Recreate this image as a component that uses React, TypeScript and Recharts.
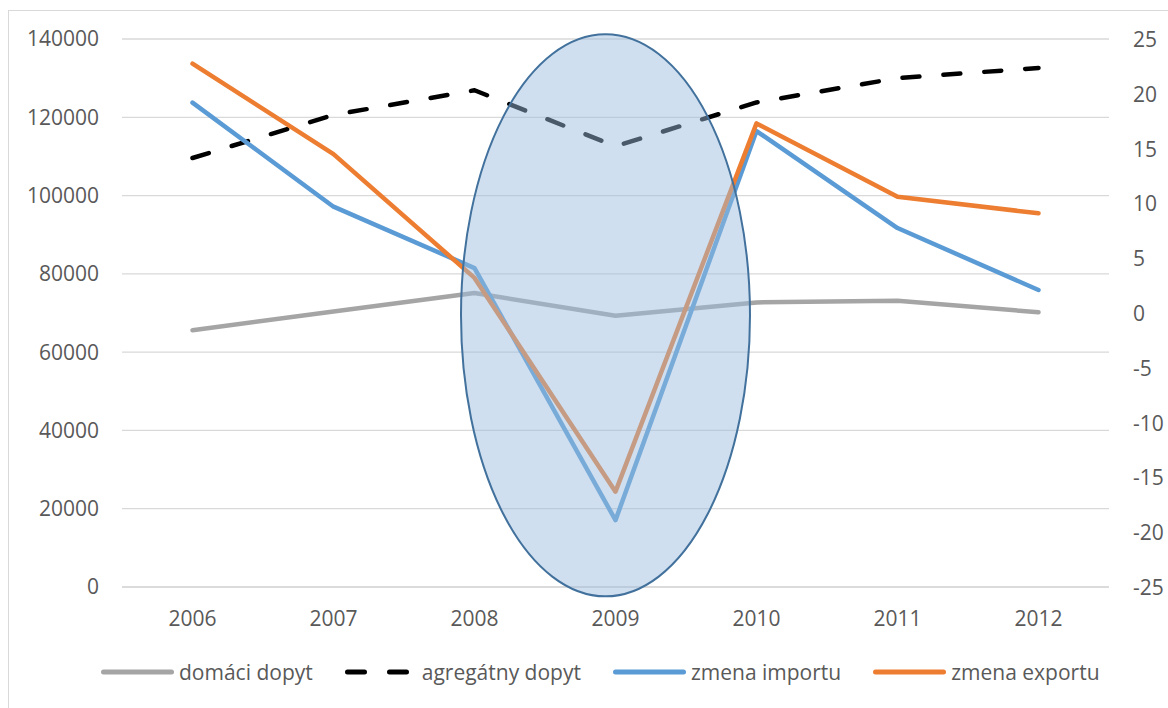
import React from 'react';
import { LineChart, Line, XAxis, YAxis, CartesianGrid, Legend, ReferenceDot } from 'recharts';

const years = ['2006', '2007', '2008', '2009', '2010', '2011', '2012'];
const domaciDopyt = [65600, 70400, 75100, 69300, 72700, 73100, 70200];
const agregatnyDopyt = [109600, 120600, 126900, 112600, 123800, 130000, 132600];
const zmenaImportu = [19.2, 9.7, 4.1, -18.9, 16.6, 7.75, 2.1];
const zmenaExportu = [22.75, 14.5, 3.2, -16.3, 17.3, 10.6, 9.1];

const leftTicks = [0, 20000, 40000, 60000, 80000, 100000, 120000, 140000];
const rightTicks = [-25, -20, -15, -10, -5, 0, 5, 10, 15, 20, 25];

const data = years.map((year, i) => ({
    year,
    domaci: domaciDopyt[i],
    agregatny: agregatnyDopyt[i],
    import: zmenaImportu[i],
    export: zmenaExportu[i],
}));

const FONT = '"Open Sans", sans-serif';
const TEXT = '#595959';

const legendItems = [
    { label: 'domáci dopyt', color: '#a5a5a5', dashed: false },
    { label: 'agregátny dopyt', color: '#000000', dashed: true },
    { label: 'zmena importu', color: '#5b9bd5', dashed: false },
    { label: 'zmena exportu', color: '#ed7d31', dashed: false },
];

const ChartLegend = () => (
    <div style={{ display: 'flex', alignItems: 'center', paddingLeft: 92, height: 30, fontFamily: FONT, fontSize: 21, color: TEXT }}>
        {legendItems.map((item) => (
            <div key={item.label} style={{ display: 'flex', alignItems: 'center', marginRight: 32 }}>
                <svg width={item.dashed ? 66 : 73} height={10}>
                    <line
                        x1={2.5}
                        y1={5}
                        x2={item.dashed ? 63.5 : 70.5}
                        y2={5}
                        stroke={item.color}
                        strokeWidth={5}
                        strokeLinecap="round"
                        strokeDasharray={item.dashed ? '17 25' : undefined}
                    />
                </svg>
                <span style={{ marginLeft: item.dashed ? 11 : 5, lineHeight: '30px', whiteSpace: 'nowrap' }}>{item.label}</span>
            </div>
        ))}
    </div>
);

const RightTick = (props: any) => (
    <text x={props.x} y={props.y} textAnchor="start" dominantBaseline="central" fill={TEXT} fontSize={21} fontFamily={FONT}>
        {props.payload.value}
    </text>
);

const Ellipse = (props: any) => (
    <ellipse
        cx={props.cx - 10}
        cy={props.cy}
        rx={144.5}
        ry={281}
        fill="#9bbcdd"
        fillOpacity={0.48}
        stroke="#41719c"
        strokeWidth={2}
    />
);

export default function App() {
    return (
        <>
            <style>{'html, body { margin: 0; overflow: hidden; }'}</style>
            <div style={{ position: 'absolute', left: 8, top: 10, width: 1165, height: 705, border: '1px solid #d9d9d9', background: '#fff' }}>
                <LineChart width={1158} height={696} data={data} margin={{ top: 28, right: 0, bottom: 80, left: 0 }}>
                    <CartesianGrid yAxisId="left" vertical={false} stroke="#d9d9d9" strokeWidth={1.3} />
                    <XAxis
                        dataKey="year"
                        height={40}
                        padding={{ left: 70.5, right: 70.5 }}
                        axisLine={{ stroke: '#d9d9d9', strokeWidth: 1.3 }}
                        tickLine={false}
                        tickSize={0}
                        tickMargin={24}
                        tick={{ fill: TEXT, fontSize: 21, fontFamily: FONT }}
                    />
                    <YAxis
                        yAxisId="left"
                        orientation="left"
                        width={113}
                        domain={[0, 140000]}
                        ticks={leftTicks}
                        axisLine={false}
                        tickLine={false}
                        tickSize={0}
                        tickMargin={23}
                        tick={{ fill: TEXT, fontSize: 21, fontFamily: FONT }}
                    />
                    <YAxis
                        yAxisId="right"
                        orientation="right"
                        width={58}
                        domain={[-25, 25]}
                        ticks={rightTicks}
                        axisLine={false}
                        tickLine={false}
                        tickSize={0}
                        tickMargin={24}
                        tick={<RightTick />}
                    />
                    <Legend
                        layout="horizontal"
                        align="center"
                        verticalAlign="middle"
                        wrapperStyle={{ top: 646, left: 0, width: 1158 }}
                        content={<ChartLegend />}
                    />
                    <Line yAxisId="left" type="linear" dataKey="domaci" name="domáci dopyt" stroke="#a5a5a5" strokeWidth={4.5} strokeLinecap="round" strokeLinejoin="round" dot={false} activeDot={false} isAnimationActive={false} />
                    <Line yAxisId="left" type="linear" dataKey="agregatny" name="agregátny dopyt" stroke="#000000" strokeWidth={4.5} strokeDasharray="17 24" strokeLinecap="round" strokeLinejoin="round" dot={false} activeDot={false} isAnimationActive={false} />
                    <Line yAxisId="right" type="linear" dataKey="import" name="zmena importu" stroke="#5b9bd5" strokeWidth={4.5} strokeLinecap="round" strokeLinejoin="round" dot={false} activeDot={false} isAnimationActive={false} />
                    <Line yAxisId="right" type="linear" dataKey="export" name="zmena exportu" stroke="#ed7d31" strokeWidth={4.5} strokeLinecap="round" strokeLinejoin="round" dot={false} activeDot={false} isAnimationActive={false} />
                    <ReferenceDot yAxisId="left" x="2009" y={69400} ifOverflow="visible" shape={Ellipse} />
                </LineChart>
            </div>
        </>
    );
}
